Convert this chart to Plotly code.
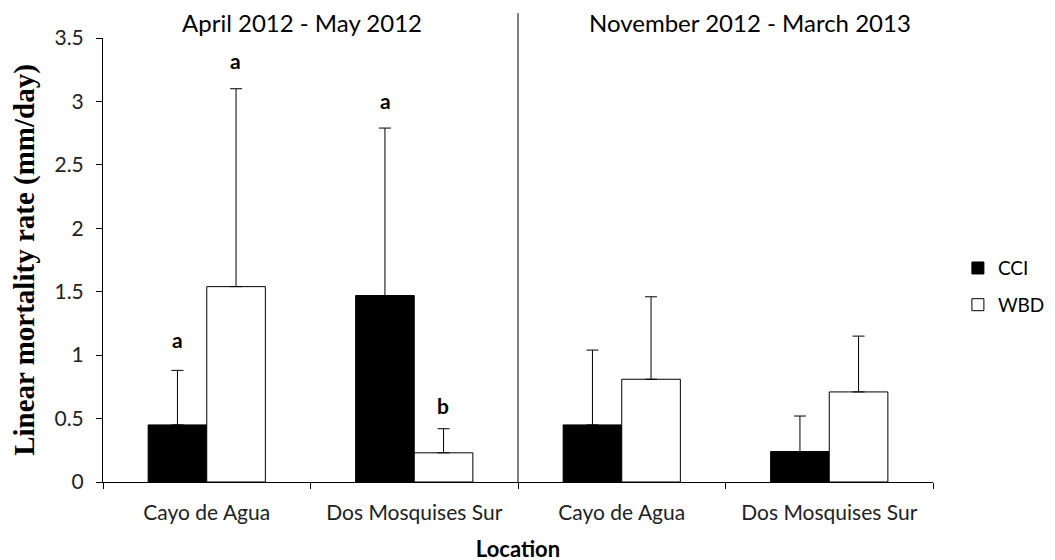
import plotly.graph_objects as go

categories = ["Cayo de Agua", "Dos Mosquises Sur", "Cayo de Agua ", "Dos Mosquises Sur "]
tick_labels = ["Cayo de Agua", "Dos Mosquises Sur", "Cayo de Agua", "Dos Mosquises Sur"]
cci_values = [0.45, 1.47, 0.45, 0.24]
cci_upper = [0.88, 2.79, 1.04, 0.52]
wbd_values = [1.54, 0.23, 0.81, 0.71]
wbd_upper = [3.10, 0.42, 1.46, 1.15]
period_titles = ["April 2012 - May 2012", "November 2012 - March 2013"]
period_title_x = [0.46, 2.62]
letters_cci = ["a", "a", "", ""]
letters_wbd = ["a", "b", "", ""]
letters_cci_y = [1.12, 3.01, None, None]
letters_wbd_y = [3.32, 0.60, None, None]

tick_font = dict(family="Lato, Open Sans, sans-serif", size=21, color="#222222")

fig = go.Figure()
fig.add_trace(go.Bar(
    x=categories, y=cci_values, name="CCI", legendgroup="cci",
    marker=dict(color="black", line=dict(color="black", width=1)),
    error_y=dict(type="data", symmetric=False,
                 array=[u - v for u, v in zip(cci_upper, cci_values)],
                 arrayminus=[0] * 4, color="black", thickness=1, width=6),
))
fig.add_trace(go.Bar(
    x=categories, y=wbd_values, name="WBD", legendgroup="wbd",
    marker=dict(color="white", line=dict(color="black", width=1)),
    error_y=dict(type="data", symmetric=False,
                 array=[u - v for u, v in zip(wbd_upper, wbd_values)],
                 arrayminus=[0] * 4, color="black", thickness=1, width=6),
))

for i, c in enumerate(categories):
    if letters_cci[i]:
        fig.add_annotation(x=c, y=letters_cci_y[i], text="<b>%s</b>" % letters_cci[i],
                           xshift=-29, showarrow=False,
                           font=dict(family="Lato, sans-serif", size=21, color="black"))
    if letters_wbd[i]:
        fig.add_annotation(x=c, y=letters_wbd_y[i], text="<b>%s</b>" % letters_wbd[i],
                           xshift=29, showarrow=False,
                           font=dict(family="Lato, sans-serif", size=21, color="black"))

for t, tx in zip(period_titles, period_title_x):
    fig.add_annotation(x=tx, y=1.0, xref="x", yref="paper", yanchor="middle", yshift=16,
                       text=t, showarrow=False,
                       font=dict(family="Lato, sans-serif", size=24, color="black"))

fig.add_shape(type="line", x0=1.5, x1=1.5, xref="x", y0=0, y1=1.056, yref="paper",
              line=dict(color="black", width=1))

fig.update_layout(
    width=1055, height=560,
    margin=dict(l=95, r=130, t=30, b=86, autoexpand=False),
    plot_bgcolor="white", paper_bgcolor="white",
    barmode="group", bargap=0.435, bargroupgap=0,
    showlegend=True,
    legend=dict(x=1.03, y=0.44, xanchor="left", yanchor="middle",
                font=dict(family="Lato, sans-serif", size=19, color="black"),
                traceorder="grouped", tracegroupgap=9, itemwidth=30,
                bgcolor="rgba(0,0,0,0)"),
    xaxis=dict(
        automargin=False,
        tickmode="array", tickvals=categories, ticktext=tick_labels,
        tickfont=tick_font, showline=True, linecolor="black", linewidth=1,
        ticks="outside", tickson="boundaries", ticklen=6, tickcolor="black",
        ticklabelstandoff=12,
        showgrid=False, zeroline=False,
        title=dict(text="<b>Location</b>", standoff=18,
                   font=dict(family="Lato, sans-serif", size=22, color="black")),
    ),
    yaxis=dict(
        automargin=False,
        range=[0, 3.5], tickvals=[0, 0.5, 1, 1.5, 2, 2.5, 3, 3.5],
        ticktext=["0", "0.5", "1", "1.5", "2", "2.5", "3", "3.5"],
        tickfont=tick_font, showline=True, linecolor="black", linewidth=1,
        ticks="outside", ticklen=6, tickcolor="black",
        ticklabelstandoff=8,
        showgrid=False, zeroline=False,
        title=dict(text="<b>Linear mortality rate (mm/day)</b>", standoff=12,
                   font=dict(family="Liberation Serif, Times New Roman, serif", size=29, color="black")),
    ),
)

fig.write_html("out.html")
